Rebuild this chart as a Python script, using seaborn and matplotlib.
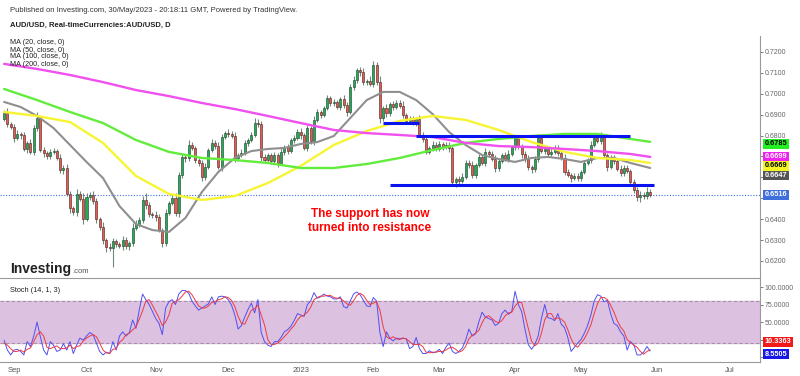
import numpy as np
import pandas as pd
import matplotlib
matplotlib.use("Agg")
import matplotlib.pyplot as plt
import matplotlib.transforms as mtransforms
import seaborn as sns


# %% data (AUD/USD daily, 29 Aug 2022 - 30 May 2023)
first_open = 0.6880

closes = [
    0.6908, 0.6856, 0.6842, 0.6789, 0.6808, 0.6801, 0.6736, 0.6764, 0.6722, 0.6836,
    0.6884, 0.6731, 0.6717, 0.6702, 0.6722, 0.6726, 0.6693, 0.6635, 0.6645, 0.6521,
    0.6454, 0.6435, 0.6521, 0.6497, 0.6401, 0.6506, 0.6516, 0.6487, 0.6401, 0.6363,
    0.6300, 0.6267, 0.6262, 0.6296, 0.6281, 0.6272, 0.6300, 0.6272, 0.6286, 0.6358,
    0.6377, 0.6396, 0.6492, 0.6468, 0.6425, 0.6418, 0.6410, 0.6348, 0.6286, 0.6430,
    0.6478, 0.6501, 0.6430, 0.6611, 0.6698, 0.6693, 0.6755, 0.6741, 0.6683, 0.6669,
    0.6602, 0.6650, 0.6731, 0.6765, 0.6750, 0.6650, 0.6794, 0.6812, 0.6808, 0.6800,
    0.6693, 0.6707, 0.6717, 0.6765, 0.6779, 0.6803, 0.6860, 0.6856, 0.6698, 0.6683,
    0.6707, 0.6678, 0.6707, 0.6669, 0.6722, 0.6745, 0.6726, 0.6779, 0.6789, 0.6817,
    0.6803, 0.6741, 0.6836, 0.6774, 0.6875, 0.6913, 0.6899, 0.6932, 0.6980, 0.6956,
    0.6960, 0.6936, 0.6975, 0.6946, 0.6913, 0.7033, 0.7066, 0.7114, 0.7105, 0.7056,
    0.7061, 0.7047, 0.7138, 0.7056, 0.6884, 0.6932, 0.6908, 0.6950, 0.6937, 0.6956,
    0.6944, 0.6899, 0.6870, 0.6880, 0.6865, 0.6880, 0.6803, 0.6785, 0.6722, 0.6740,
    0.6755, 0.6738, 0.6760, 0.6745, 0.6755, 0.6740, 0.6578, 0.6590, 0.6583, 0.6602,
    0.6669, 0.6660, 0.6611, 0.6659, 0.6698, 0.6669, 0.6722, 0.6712, 0.6690, 0.6645,
    0.6680, 0.6707, 0.6690, 0.6712, 0.6745, 0.6789, 0.6750, 0.6712, 0.6688, 0.6650,
    0.6640, 0.6688, 0.6789, 0.6726, 0.6736, 0.6712, 0.6722, 0.6741, 0.6717, 0.6693,
    0.6626, 0.6612, 0.6597, 0.6607, 0.6597, 0.6626, 0.6669, 0.6683, 0.6755, 0.6789,
    0.6775, 0.6794, 0.6707, 0.6650, 0.6693, 0.6678, 0.6640, 0.6621, 0.6645, 0.6630,
    0.6578, 0.6540, 0.6506, 0.6516, 0.6511, 0.6530, 0.6516,
]

# wick lengths above / below the body, in pips
wick_up = [
    15, 25, 10, 12, 20, 8, 18, 10, 22, 15, 30, 12, 14, 10, 12, 15, 10, 18, 12, 20,
    15, 10, 25, 12, 30, 18, 12, 20, 15, 10, 25, 12, 18, 15, 10, 12, 20, 15, 10, 22,
    18, 15, 20, 35, 12, 10, 20, 15, 12, 18, 10, 20, 25, 15, 20, 12, 25, 15, 10, 12,
    15, 20, 10, 18, 12, 20, 15, 10, 20, 12, 15, 10, 18, 12, 10, 15, 25, 20, 12, 15,
    12, 10, 15, 10, 18, 12, 15, 10, 12, 15, 20, 10, 15, 12, 20, 15, 10, 12, 15, 10,
    15, 12, 10, 20, 15, 12, 18, 10, 15, 20, 12, 25, 20, 15, 30, 12, 20, 10, 15, 12,
    15, 20, 10, 12, 15, 10, 18, 12, 15, 10, 20, 12, 15, 10, 12, 15, 10, 12, 15, 18,
    15, 12, 20, 10, 15, 12, 18, 10, 12, 15, 10, 12, 15, 20, 10, 12, 15, 10, 12, 18,
    10, 15, 20, 12, 15, 10, 18, 12, 15, 10, 20, 12, 10, 15, 12, 10, 15, 12, 18, 15,
    12, 24, 15, 10, 12, 15, 10, 18, 12, 15, 10, 12, 15, 20, 12, 25, 15,
]
wick_dn = [
    10, 15, 12, 20, 10, 15, 12, 18, 10, 15, 12, 10, 18, 12, 15, 10, 12, 15, 20, 12,
    25, 15, 20, 12, 25, 10, 15, 12, 20, 15, 18, 22, 15, 92, 15, 12, 20, 15, 18, 12,
    10, 15, 12, 20, 15, 12, 18, 10, 20, 15, 12, 10, 15, 20, 12, 18, 15, 10, 12, 15,
    20, 15, 12, 10, 15, 12, 20, 10, 15, 12, 18, 15, 10, 12, 15, 10, 12, 15, 20, 12,
    10, 15, 12, 18, 10, 15, 12, 10, 15, 12, 18, 10, 15, 12, 20, 10, 15, 12, 10, 15,
    12, 10, 15, 12, 18, 10, 15, 12, 20, 15, 12, 10, 15, 12, 25, 15, 20, 12, 15, 10,
    12, 15, 10, 12, 15, 20, 12, 15, 10, 12, 15, 10, 12, 15, 10, 20, 15, 22, 18, 12,
    10, 15, 12, 15, 10, 12, 15, 10, 12, 20, 15, 10, 12, 15, 10, 12, 15, 20, 12, 15,
    18, 12, 15, 10, 12, 15, 10, 12, 15, 10, 15, 12, 20, 10, 12, 15, 10, 12, 15, 10,
    12, 15, 10, 20, 12, 15, 10, 12, 15, 10, 12, 15, 20, 22, 15, 12, 10,
]

# moving averages read every 5 bars (MA20) / every 10 bars (others), last bar added
ma20 = [0.6961, 0.6937, 0.6894, 0.6836, 0.6755, 0.6674, 0.6597, 0.6463, 0.6377, 0.6348,
        0.6339, 0.6406, 0.6530, 0.6626, 0.6693, 0.6726, 0.6736, 0.6741, 0.6760, 0.6769,
        0.6798, 0.6884, 0.6970, 0.7009, 0.7009, 0.6970, 0.6903, 0.6817, 0.6755, 0.6707,
        0.6688, 0.6674, 0.6693, 0.6698, 0.6688, 0.6674, 0.6693, 0.6693, 0.6669, 0.6645]
ma50 = [0.6913, 0.6894, 0.6865, 0.6765, 0.6607, 0.6521, 0.6492, 0.6511, 0.6573, 0.6655,
        0.6755, 0.6822, 0.6870, 0.6894, 0.6875, 0.6827, 0.6769, 0.6722, 0.6693, 0.6683, 0.6669]
ma100 = [0.7023, 0.6970, 0.6913, 0.6860, 0.6779, 0.6722, 0.6693, 0.6683, 0.6669, 0.6645,
         0.6645, 0.6664, 0.6693, 0.6731, 0.6765, 0.6784, 0.6798, 0.6808, 0.6808, 0.6784, 0.6770]
ma200 = [0.7143, 0.7119, 0.7090, 0.7056, 0.7018, 0.6989, 0.6956, 0.6927, 0.6894, 0.6860,
         0.6827, 0.6812, 0.6803, 0.6793, 0.6765, 0.6750, 0.6745, 0.6736, 0.6726, 0.6712, 0.6698]

# drawn support / resistance lines
sr_levels = [0.6859, 0.6797, 0.6565]
sr_start = ["2023-02-06", "2023-02-20", "2023-02-08"]
sr_end = ["2023-02-21", "2023-05-22", "2023-05-31"]

# stochastic (14, 1, 3)
stoch_k = [
    24, 10, 3, 10, 11, 8, 3, 22, 15, 30, 50, 29, 10, 3, 22, 17, 8, 10, 19, 10,
    22, 5, 17, 27, 24, 30, 35, 32, 20, 8, 3, 7, 5, 22, 10, 30, 36, 30, 35, 53,
    41, 67, 90, 82, 75, 65, 55, 48, 32, 70, 79, 82, 75, 90, 95, 95, 91, 80, 73, 67,
    70, 73, 76, 86, 75, 86, 87, 86, 82, 74, 60, 40, 45, 57, 68, 77, 63, 82, 35, 22,
    17, 15, 22, 22, 28, 36, 39, 44, 52, 62, 60, 58, 75, 80, 92, 84, 86, 90, 87, 86,
    83, 83, 86, 72, 70, 80, 90, 93, 89, 81, 73, 72, 85, 80, 35, 15, 36, 27, 23, 27,
    26, 27, 26, 12, 15, 28, 12, 5, 5, 9, 6, 7, 11, 5, 14, 20, 8, 5, 8, 13,
    24, 40, 30, 33, 50, 64, 57, 55, 53, 45, 48, 62, 67, 61, 65, 94, 75, 65, 40, 18,
    11, 18, 30, 55, 75, 56, 55, 52, 62, 47, 42, 28, 8, 14, 20, 25, 34, 45, 60, 80,
    89, 87, 79, 81, 62, 48, 45, 36, 30, 10, 22, 18, 3, 3, 7, 15, 8.5505,
]
stoch_d = [
    20, 17, 12, 8, 8, 10, 7, 11, 13, 22, 32, 36, 30, 14, 12, 14, 16, 12, 12, 13,
    17, 12, 15, 16, 23, 27, 30, 32, 29, 20, 10, 6, 5, 11, 12, 21, 25, 32, 34, 39,
    43, 54, 66, 80, 82, 74, 65, 56, 45, 50, 60, 77, 79, 82, 87, 93, 94, 89, 81, 73,
    70, 70, 73, 78, 79, 82, 83, 86, 85, 81, 72, 58, 48, 47, 57, 67, 69, 74, 60, 46,
    25, 18, 18, 20, 24, 29, 34, 40, 45, 53, 58, 60, 64, 71, 82, 85, 87, 87, 88, 88,
    85, 84, 84, 80, 76, 74, 80, 88, 91, 88, 81, 75, 77, 79, 67, 43, 29, 26, 29, 26,
    25, 27, 26, 22, 18, 18, 18, 15, 7, 6, 7, 7, 8, 8, 10, 13, 14, 11, 7, 9,
    15, 26, 31, 34, 38, 49, 57, 59, 55, 51, 49, 52, 59, 63, 64, 73, 78, 78, 60, 41,
    23, 16, 20, 34, 53, 62, 62, 54, 56, 54, 50, 39, 26, 17, 14, 20, 26, 35, 46, 62,
    76, 85, 85, 82, 74, 64, 52, 43, 37, 25, 21, 17, 14, 8, 4, 8, 10.3363,
]

ma_legend = ["MA (20, close, 0)", "MA (50, close, 0)", "MA (100, close, 0)", "MA (200, close, 0)"]

# price scale: tick values, and the ones hidden behind value boxes
price_ticks = [0.62, 0.63, 0.64, 0.65, 0.66, 0.67, 0.68, 0.69, 0.70, 0.71, 0.72]
price_hidden = [0.65, 0.66, 0.67]
stoch_ticks = [0, 25, 50, 75, 100]
stoch_hidden = [0, 25]


# %% prep
dates = pd.bdate_range("2022-08-29", "2023-05-30")
ext_dates = pd.bdate_range("2022-08-29", "2023-07-31")
pos = pd.Series(np.arange(len(ext_dates)), index=ext_dates)

c = np.array(closes)
o = np.r_[first_open, c[:-1]]
x = np.arange(len(c))
top = np.maximum(o, c) + np.array(wick_up) / 10000
bot = np.minimum(o, c) - np.array(wick_dn) / 10000
up = c >= o

knots20 = list(range(0, 191, 5)) + [len(c) - 1]
knots = list(range(0, 191, 10)) + [len(c) - 1]

month_first = pos.groupby(pos.index.to_period("M")).first().iloc[1:]
tick_lab = [p.strftime("%b") if p.month != 1 else str(p.year) for p in month_first.index]


# %% plot
sns.set_style("white")
plt.rcParams["font.family"] = ["Liberation Sans", "DejaVu Sans"]

W, H = 800, 376
fig = plt.figure(figsize=(8, 3.76), dpi=100)
ax = fig.add_axes([0, 1 - 278 / H, 760 / W, (278 - 36) / H])
ax2 = fig.add_axes([0, 1 - 362 / H, 760 / W, 84 / H])

# candles
ax.vlines(x, bot, top, color="#6f8a78", lw=0.8, zorder=2)
hgt = np.maximum(np.abs(c - o), 0.00012)
ax.bar(x[up], hgt[up], bottom=o[up], width=0.62, color="#22ac58",
       edgecolor="#1c3d28", linewidth=0.4, zorder=3)
ax.bar(x[~up], hgt[~up], bottom=c[~up], width=0.62, color="#ec5a4f",
       edgecolor="#3d2220", linewidth=0.4, zorder=3)

# moving averages
sns.lineplot(x=knots20, y=ma20, ax=ax, color="#8f8f8f", lw=1.5, zorder=4)
sns.lineplot(x=knots, y=ma50, ax=ax, color="#f7f531", lw=1.7, zorder=4)
sns.lineplot(x=knots, y=ma100, ax=ax, color="#62ec3c", lw=1.7, zorder=4)
sns.lineplot(x=knots, y=ma200, ax=ax, color="#f050ee", lw=1.7, zorder=4)

# support / resistance + last price
ax.hlines(sr_levels, [pos[pd.Timestamp(d)] for d in sr_start],
          [pos[pd.Timestamp(d)] for d in sr_end], color="#0a14f0", lw=2.2, zorder=5)
ax.axhline(c[-1], color="#3d6fe0", lw=0.8, ls=(0, (1, 1.5)), zorder=1)

ax.set_xlim(-1.24, 229.3)
ax.set_ylim(0.72 - (278 - 52) / 2090, 0.72 + (52 - 36) / 2090)
ax.set_xlabel("")
ax.set_ylabel("")
for s in ["left", "top", "bottom"]:
    ax.spines[s].set_visible(False)
ax.spines["right"].set_color("#9a9a9a")
ax.yaxis.tick_right()
ax.set_yticks(price_ticks)
ax.set_yticklabels(["" if t in price_hidden else f"{t:.4f}" for t in price_ticks])
ax.tick_params(axis="y", direction="out", length=2, width=0.6, colors="#666666",
               labelsize=5, pad=1.5)
ax.tick_params(axis="x", bottom=False, labelbottom=False)

# value boxes on the price scale
trans = mtransforms.blended_transform_factory(ax.transAxes, ax.transData)
boxes = [("0.6785", 0.6760, "#22f022", "black"), ("0.6699", 0.6700, "#ee22ee", "white"),
         ("0.6669", 0.6655, "#f4f422", "black"), ("0.6647", 0.6609, "#555555", "white"),
         ("0.6516", 0.6517, "#3e6fdc", "white")]
for s, yv, fc, tc in boxes:
    ax.text(1.006, yv, s, transform=trans, ha="left", va="center", fontsize=5.3,
            color=tc, weight="bold", zorder=10, clip_on=False,
            bbox=dict(boxstyle="square,pad=0.18", fc=fc, ec="none"))

# stochastic
ax2.axhspan(20, 80, color="#dcc1e0", zorder=0)
ax2.axhline(80, color="#a68fab", lw=0.8, ls=(0, (3, 2)), zorder=1)
ax2.axhline(20, color="#a68fab", lw=0.8, ls=(0, (3, 2)), zorder=1)
sns.lineplot(x=x, y=stoch_k, ax=ax2, color="#5050f0", lw=0.7, zorder=3)
sns.lineplot(x=x, y=stoch_d, ax=ax2, color="#ee3a40", lw=0.7, zorder=4)
ax2.set_xlim(-1.24, 229.3)
ax2.set_ylim(-7.1, 112.9)
ax2.set_xlabel("")
ax2.set_ylabel("")
ax2.spines["left"].set_visible(False)
for s in ["top", "right", "bottom"]:
    ax2.spines[s].set_color("#9a9a9a")
ax2.yaxis.tick_right()
ax2.set_yticks(stoch_ticks)
ax2.set_yticklabels(["" if t in stoch_hidden else f"{t:.4f}" for t in stoch_ticks])
ax2.tick_params(axis="y", direction="out", length=2, width=0.6, colors="#666666",
                labelsize=5, pad=1.5)
ax2.set_xticks(month_first.values)
ax2.set_xticklabels(tick_lab)
ax2.tick_params(axis="x", direction="out", length=2, width=0.6, colors="#555555",
                labelsize=5.5, pad=1.5)

trans2 = mtransforms.blended_transform_factory(ax2.transAxes, ax2.transData)
for s, yv, fc in [("10.3363", 21.5, "#f01818"), ("8.5505", 4.3, "#1818e8")]:
    ax2.text(1.006, yv, s, transform=trans2, ha="left", va="center", fontsize=5.3,
             color="white", weight="bold", zorder=10, clip_on=False,
             bbox=dict(boxstyle="square,pad=0.18", fc=fc, ec="none"))

# texts
fig.text(10 / W, 1 - 10 / H, "Published on Investing.com, 30/May/2023 - 20:18:11 GMT, Powered by TradingView.",
         fontsize=5.5, color="#333333", va="center")
fig.text(10 / W, 1 - 25 / H, "AUD/USD, Real-timeCurrencies:AUD/USD, D",
         fontsize=5.5, color="#222222", weight="bold", va="center")
for k, s in enumerate(ma_legend):
    fig.text(10 / W, 1 - (43 + 7 * k) / H, s, fontsize=5.2, color="#222222", va="center")
fig.text(370 / W, 1 - 221 / H, "The support has now\nturned into resistance", ha="center",
         va="center", color="#ff0000", fontsize=8.5, weight="bold", linespacing=1.15)
fig.text(10 / W, 1 - 273 / H, "Investing", fontsize=10, weight="bold", color="#222222",
         va="baseline")
fig.text(72 / W, 1 - 273 / H, ".com", fontsize=5.5, color="#555555", va="baseline")
fig.text(10 / W, 1 - 290 / H, "Stoch (14, 1, 3)", fontsize=5.3, color="#222222", va="center")

fig.savefig("out.png", dpi=100)
